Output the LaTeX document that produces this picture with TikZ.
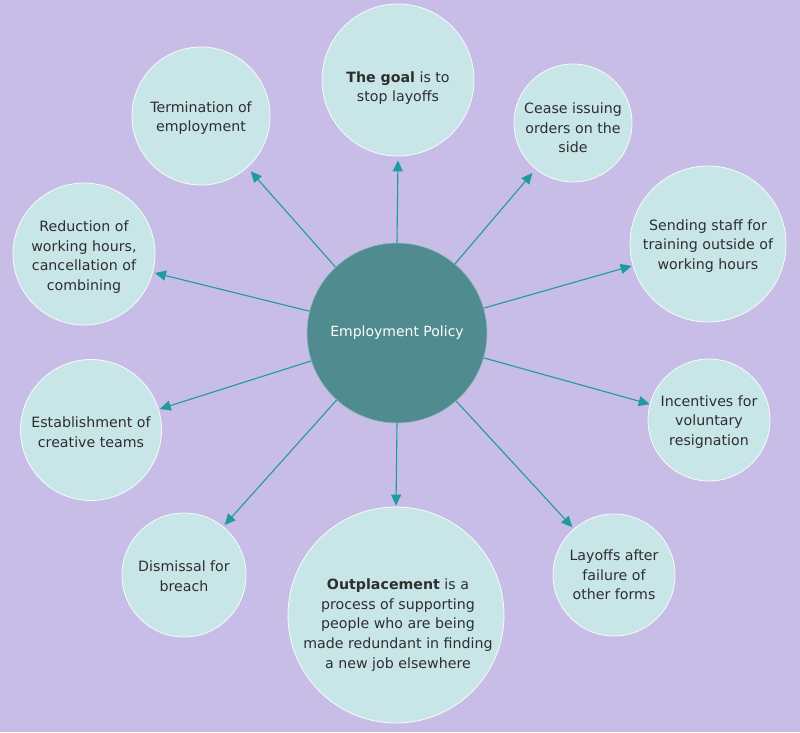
\documentclass[tikz,border=0pt]{standalone}
\usepackage{fontspec}
\setmainfont{DejaVu Sans}
\usetikzlibrary{arrows.meta}
\definecolor{bg}{HTML}{C7BDE6}
\definecolor{bub}{HTML}{C8E6E8}
\definecolor{hub}{HTML}{4F8B8F}
\definecolor{arr}{HTML}{1F9AA2}
\definecolor{txt}{HTML}{2E2E2E}
\begin{document}
\begin{tikzpicture}[x=1pt,y=-1pt,
  bubble/.style={circle, fill=bub, draw=white!85!bub, line width=0.8pt, inner sep=0pt},
  bubtext/.style={align=center, text=txt, inner sep=0pt, font=\fontsize{14.2}{19.6}\selectfont},
  hubnode/.style={circle, fill=hub, draw=hub!60!white, line width=0.6pt, inner sep=0pt, text=white, font=\fontsize{14}{19.5}\selectfont},
  link/.style={draw=arr, line width=1.1pt, -{Triangle[length=11pt,width=10pt]}}]
\fill[bg] (0,0) rectangle (800,732);
\useasboundingbox (0,0) rectangle (800,732);
\node[hubnode, minimum size=180pt] (hub) at (397,333) {Employment Policy};
\node[bubble, minimum size=152pt] (goal) at (398,80) {};
\node[bubble, minimum size=138pt] (term) at (201,116) {};
\node[bubble, minimum size=118pt] (cease) at (573,123) {};
\node[bubble, minimum size=156pt] (send) at (708,244) {};
\node[bubble, minimum size=142pt] (red) at (84,254) {};
\node[bubble, minimum size=141pt] (est) at (91,430) {};
\node[bubble, minimum size=122pt] (inc) at (709,420) {};
\node[bubble, minimum size=124pt] (dis) at (184,575) {};
\node[bubble, minimum size=216pt] (out) at (396,615) {};
\node[bubble, minimum size=122pt] (lay) at (614,575) {};
\node[bubtext] (goal-t) at (398,88) {\textbf{The goal} is to\\stop layoffs};
\node[bubtext] (term-t) at (201,118) {Termination of\\employment};
\node[bubtext] (cease-t) at (573,128) {Cease issuing\\orders on the\\side};
\node[bubtext] (send-t) at (708,246) {Sending staff for\\training outside of\\working hours};
\node[bubtext] (red-t) at (84,257) {Reduction of\\working hours,\\cancellation of\\combining};
\node[bubtext] (est-t) at (91,432) {Establishment of\\creative teams};
\node[bubtext] (inc-t) at (709,422) {Incentives for\\voluntary\\resignation};
\node[bubtext] (dis-t) at (184,576) {Dismissal for\\breach};
\node[bubtext] (out-t) at (398,625) {\textbf{Outplacement} is a\\process of supporting\\people who are being\\made redundant in finding\\a new job elsewhere};
\node[bubtext] (lay-t) at (614,575) {Layoffs after\\failure of\\other forms};
\draw[link, shorten >=4pt] (hub.90) -- (goal.-90);
\draw[link, shorten >=5pt] (hub.133) -- (term.-48);
\draw[link, shorten >=5pt] (hub.50) -- (cease.-129);
\draw[link, shorten >=1pt] (hub.16) -- (send.196);
\draw[link, shorten >=2pt] (hub.166) -- (red.-15);
\draw[link, shorten >=1pt] (hub.198) -- (est.17);
\draw[link] (hub.-16) -- (inc.165);
\draw[link, shorten >=2pt] (hub.228) -- (dis.51);
\draw[link, shorten >=1pt] (hub.-90) -- (out.90);
\draw[link, shorten >=2pt] (hub.-49) -- (lay.131);
\end{tikzpicture}
\end{document}
